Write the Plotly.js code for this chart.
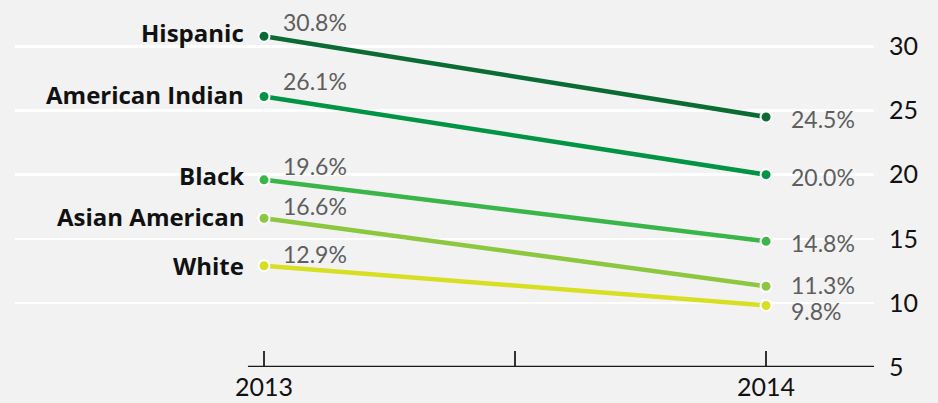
<!DOCTYPE html>
<html>
<head>
<meta charset="utf-8">
<script src="https://cdn.plot.ly/plotly-3.0.1.min.js"></script>
<style>
  html, body { margin: 0; padding: 0; background: #f2f2f2; }
  #chart { width: 938px; height: 403px; }
</style>
</head>
<body>
<div id="chart"></div>
<script>
// ---- data ----
const years = [2013, 2014];
const groups = ["Hispanic", "American Indian", "Black", "Asian American", "White"];
const val2013 = [30.8, 26.1, 19.6, 16.6, 12.9];
const val2014 = [24.5, 20.0, 14.8, 11.3, 9.8];
const yTicks = [5, 10, 15, 20, 25, 30];
const gridTicks = [10, 15, 20, 25, 30];
const xTickVals = [2013, 2013.5, 2014];
const xTickText = ["2013", "", "2014"];

// ---- style ----
const colors = ["#0b6b35", "#009444", "#39b54a", "#8dc63f", "#d7df23"];
const nameShift = [4, 2, 4, 2, 0];
const leftShift = [14, 15, 14, 12, 12];
const rightShift = [-2, -2, -2, 1, -6];
const FONT = "Lato, 'Open Sans', sans-serif";
const NAMEFONT = "'Open Sans', Lato, sans-serif";

const traces = groups.map((g, i) => ({
  x: years,
  y: [val2013[i], val2014[i]],
  type: "scatter",
  mode: "lines+markers",
  name: g,
  line: { color: colors[i], width: 4.5 },
  marker: { color: colors[i], size: 11, line: { color: "#ffffff", width: 2 } },
  hoverinfo: "skip",
  cliponaxis: false
}));

// invisible trace on overlay axis to carry the gridlines
traces.unshift({
  x: [2013], y: [10], yaxis: "y2", type: "scatter", mode: "markers",
  marker: { opacity: 0 }, hoverinfo: "skip", showlegend: false
});

const annotations = [];
groups.forEach((g, i) => {
  annotations.push({
    x: 2013, y: val2013[i], xref: "x", yref: "y", text: "<b>" + g + "</b>",
    showarrow: false, xanchor: "right", yanchor: "middle", xshift: -18, yshift: nameShift[i],
    font: { family: NAMEFONT, size: 24, color: "#111111" }
  });
  annotations.push({
    x: 2013, y: val2013[i], xref: "x", yref: "y", text: val2013[i].toFixed(1) + "%",
    showarrow: false, xanchor: "left", yanchor: "middle", xshift: 17, yshift: leftShift[i],
    font: { family: FONT, size: 23, color: "#5e5e5e" }
  });
  annotations.push({
    x: 2014, y: val2014[i], xref: "x", yref: "y", text: val2014[i].toFixed(1) + "%",
    showarrow: false, xanchor: "left", yanchor: "middle", xshift: 23, yshift: rightShift[i],
    font: { family: FONT, size: 23, color: "#5e5e5e" }
  });
});

const layout = {
  width: 938, height: 403,
  paper_bgcolor: "#f2f2f2", plot_bgcolor: "#f2f2f2",
  margin: { l: 15, r: 64, t: 8, b: 36 },
  showlegend: false,
  xaxis: {
    range: [2012.504, 2014.215],
    tickvals: xTickVals, ticktext: xTickText,
    ticks: "inside", ticklen: 16, tickwidth: 2, tickcolor: "#333333",
    showgrid: false, zeroline: false, showline: false,
    tickfont: { family: FONT, size: 25, color: "#111111" },
    ticklabelstandoff: 3,
    fixedrange: true
  },
  yaxis: {
    range: [5, 33], side: "right",
    tickvals: yTicks, ticktext: yTicks.map(String),
    showgrid: false, zeroline: false, showline: false, ticks: "",
    tickfont: { family: FONT, size: 25, color: "#111111" },
    ticklabelstandoff: 14,
    fixedrange: true
  },
  yaxis2: {
    range: [5, 33], overlaying: "y", side: "left",
    tickvals: gridTicks, showticklabels: false, ticks: "",
    showgrid: true, gridcolor: "#ffffff", gridwidth: 2.5,
    zeroline: false, showline: false, fixedrange: true
  },
  shapes: [{
    type: "line", xref: "x", yref: "y", x0: 2012.968, x1: 2014.215, y0: 5, y1: 5,
    line: { color: "#1a1a1a", width: 2.5 }, layer: "above"
  }],
  annotations: annotations
};

Plotly.newPlot("chart", traces, layout, { displayModeBar: false, staticPlot: true });
</script>
</body>
</html>
